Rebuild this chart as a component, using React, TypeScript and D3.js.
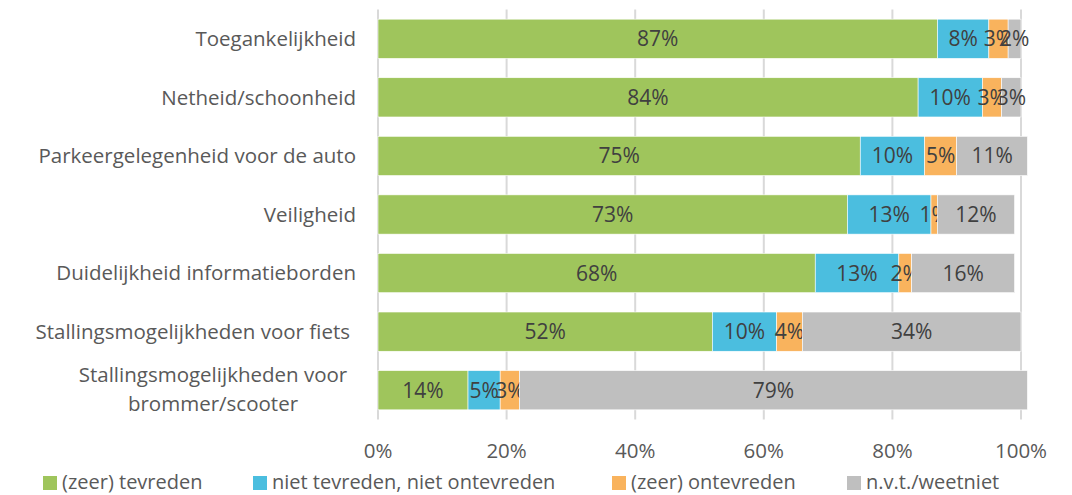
import React, { useEffect, useRef } from "react";
import * as d3 from "d3";

const categories = [
  "Toegankelijkheid",
  "Netheid/schoonheid",
  "Parkeergelegenheid voor de auto",
  "Veiligheid",
  "Duidelijkheid informatieborden",
  "Stallingsmogelijkheden voor fiets",
  "Stallingsmogelijkheden voor brommer/scooter",
];
const tevreden = [87, 84, 75, 73, 68, 52, 14];
const neutraal = [8, 10, 10, 13, 13, 10, 5];
const ontevreden = [3, 3, 5, 1, 2, 4, 3];
const nvt = [2, 3, 11, 12, 16, 34, 79];
const seriesNames = [
  "(zeer) tevreden",
  "niet tevreden, niet ontevreden",
  "(zeer) ontevreden",
  "n.v.t./weetniet",
];
const colors = ["#9fc55c", "#4bbedf", "#f9b35d", "#bfbfbf"];
const tickValues = [0, 20, 40, 60, 80, 100];

const W = 1072;
const H = 495;
const FONT = "'Open Sans', sans-serif";
const FS = "20.5px";

export default function App() {
  const ref = useRef<SVGSVGElement>(null);

  useEffect(() => {
    document.body.style.margin = "0";
    const svg = d3.select(ref.current);
    svg.selectAll("*").remove();

    const keys = ["a", "b", "c", "d"];
    const table = categories.map((c, i) => ({
      cat: c,
      a: tevreden[i],
      b: neutraal[i],
      c: ontevreden[i],
      d: nvt[i],
    }));
    const stacked = d3.stack<any>().keys(keys)(table);

    const x = d3.scaleLinear().domain([0, 100]).range([378, 1021]);
    const y = d3
      .scaleBand()
      .domain(categories)
      .range([9.5, 419.5])
      .paddingInner(0.33)
      .paddingOuter(0.165);

    // gridlines
    svg
      .append("g")
      .selectAll("line")
      .data(tickValues)
      .enter()
      .append("line")
      .attr("x1", (d) => x(d))
      .attr("x2", (d) => x(d))
      .attr("y1", 9.5)
      .attr("y2", 419.5)
      .attr("stroke", "#d9d9d9")
      .attr("stroke-width", 2);

    // bars
    const layers = svg
      .append("g")
      .selectAll("g")
      .data(stacked)
      .enter()
      .append("g")
      .attr("fill", (d, i) => colors[i]);

    layers
      .selectAll("rect")
      .data((d) => d)
      .enter()
      .append("rect")
      .attr("x", (d) => x(d[0]))
      .attr("width", (d) => x(d[1]) - x(d[0]))
      .attr("y", (d: any) => y(d.data.cat)!)
      .attr("height", y.bandwidth())
      .attr("stroke", "#ffffff")
      .attr("stroke-width", 0.6);

    // data labels
    layers
      .selectAll("text")
      .data((d) => d)
      .enter()
      .append("text")
      .attr("x", (d) => (x(d[0]) + x(d[1])) / 2)
      .attr("y", (d: any) => y(d.data.cat)! + y.bandwidth() / 2)
      .attr("dy", "0.36em")
      .attr("text-anchor", "middle")
      .attr("fill", "#404040")
      .style("font-family", FONT)
      .style("font-size", "21px")
      .text((d) => Math.round(d[1] - d[0]) + "%");

    // category labels
    const cats = svg.append("g");
    categories.forEach((c) => {
      const cy = y(c)! + y.bandwidth() / 2;
      if (c.indexOf("brommer") >= 0) {
        const t = cats
          .append("text")
          .attr("text-anchor", "middle")
          .attr("fill", "#595959")
          .style("font-family", FONT)
          .style("font-size", FS);
        t.append("tspan").attr("x", 213).attr("y", cy - 15).attr("dy", "0.35em").text("Stallingsmogelijkheden voor");
        t.append("tspan").attr("x", 213).attr("y", cy + 14).attr("dy", "0.35em").text("brommer/scooter");
      } else {
        cats
          .append("text")
          .attr("x", c.indexOf("fiets") >= 0 ? 350 : 356)
          .attr("y", cy)
          .attr("dy", "0.35em")
          .attr("text-anchor", "end")
          .attr("fill", "#595959")
          .style("font-family", FONT)
          .style("font-size", FS)
          .text(c);
      }
    });

    // x axis labels
    svg
      .append("g")
      .selectAll("text")
      .data(tickValues)
      .enter()
      .append("text")
      .attr("x", (d) => x(d))
      .attr("y", 451)
      .attr("dy", "0.35em")
      .attr("text-anchor", "middle")
      .attr("fill", "#595959")
      .style("font-family", FONT)
      .style("font-size", FS)
      .text((d) => d + "%");

    // legend
    const legendX = [43, 253, 612, 847];
    const leg = svg
      .append("g")
      .selectAll("g")
      .data(seriesNames)
      .enter()
      .append("g")
      .attr("transform", (d, i) => `translate(${legendX[i]},482)`);
    leg
      .append("rect")
      .attr("x", 0)
      .attr("y", -6)
      .attr("width", 14)
      .attr("height", 14)
      .attr("fill", (d, i) => colors[i]);
    leg
      .append("text")
      .attr("x", 19)
      .attr("y", 0)
      .attr("dy", "0.35em")
      .attr("fill", "#595959")
      .style("font-family", FONT)
      .style("font-size", "20px")
      .text((d) => d);
  }, []);

  return <svg ref={ref} width={W} height={H} style={{ display: "block" }} />;
}
